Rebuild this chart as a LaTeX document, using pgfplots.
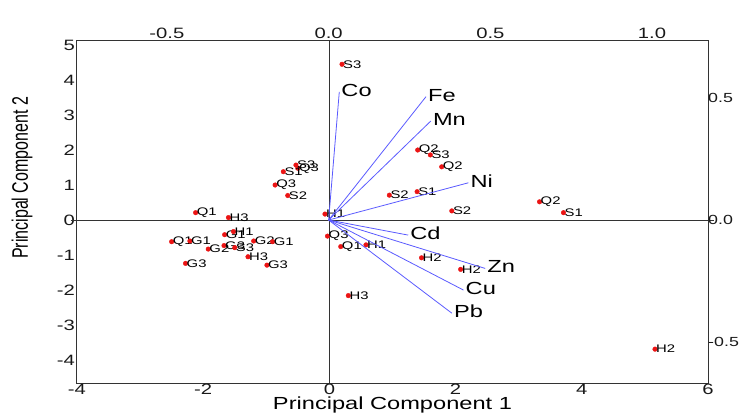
\documentclass[border=0pt]{standalone}
\usepackage{fontspec}
\setmainfont{Liberation Sans}[FakeStretch=1.35]
\newfontfamily\plainsans{Liberation Sans}
\usepackage{graphicx}
\usepackage{pgfplots}
\usepackage{pgfplotstable}
\pgfplotsset{compat=1.18}
\definecolor{arrowblue}{RGB}{90,90,255}
\definecolor{dotred}{RGB}{235,20,20}

\pgfplotstableread{
x y label
0.20 4.45 S3
1.40 2.00 Q2
1.60 1.86 S3
1.78 1.52 Q2
0.95 0.71 S2
1.39 0.81 S1
1.94 0.26 S2
3.33 0.52 Q2
3.71 0.21 S1
5.16 -3.69 H2
-0.07 0.17 H1
-0.03 -0.46 Q3
0.18 -0.76 Q1
0.58 -0.71 H1
1.46 -1.08 H2
2.08 -1.41 H2
0.30 -2.16 H3
-2.12 0.21 Q1
-1.60 0.07 H3
-0.86 1.00 Q3
-0.66 0.70 S2
-0.50 1.48 Q3
-0.53 1.57 S3
-0.73 1.38 S1
-2.50 -0.62 Q1
-2.21 -0.60 G1
-1.92 -0.83 G2
-1.66 -0.42 G1
-1.52 -0.33 H1
-1.67 -0.73 G3
-1.50 -0.79 S3
-1.20 -0.60 G2
-0.90 -0.62 G1
-1.29 -1.05 H3
-0.99 -1.29 G3
-2.28 -1.24 G3
}\scores

\pgfplotstableread{
x y label
0.033 0.527 Co
0.301 0.507 Fe
0.316 0.407 Mn
0.432 0.153 Ni
0.246 -0.062 Cd
0.484 -0.199 Zn
0.417 -0.288 Cu
0.381 -0.383 Pb
}\loadings

\begin{document}
\begin{tikzpicture}[x=1pt,y=1pt]
\useasboundingbox (0,0) rectangle (739,416);
\begin{axis}[
  at={(77pt,33pt)}, anchor=south west, scale only axis,
  width=631pt, height=343pt,
  xmin=-4, xmax=6, ymin=-4.657, ymax=5.143,
  axis line style={black!80, line width=1pt},
  xtick={-4,-2,0,2,4,6}, xticklabels={-4,-2,0,2,4,6},
  ytick={-4,-3,-2,-1,0,1,2,3,4,5}, yticklabels={-4,-3,-2,-1,0,1,2,3,4,5},
  xtick pos=bottom, ytick pos=left,
  major tick length=0pt,
  tick label style={font=\fontsize{15}{15}\selectfont, text=black!90},
  xticklabel style={inner sep=1pt},
  yticklabel style={inner sep=2pt},
  xlabel={Principal Component 1},
  ylabel={\scalebox{1}[1.4]{Principal Component 2}},
  xlabel style={font=\fontsize{17.5}{17.5}\selectfont, at={(axis description cs:0.5,-0.064)}, anchor=center},
  ylabel style={font=\plainsans\fontsize{16}{16}\selectfont, at={(axis description cs:-0.087,0.598)}, anchor=center},
  clip=false,
]
\draw[black!80, line width=0.8pt] (axis cs:-4.1,0) -- (axis cs:6.1,0);
\draw[black!80, line width=0.8pt] (axis cs:0,-4.657) -- (axis cs:0,5.143);
\addplot[only marks, mark=*, mark size=2.3pt, color=dotred,
  mark options={draw=dotred, fill=dotred},
  point meta=explicit symbolic, nodes near coords,
  nodes near coords style={anchor=west, font=\fontsize{11}{11}\selectfont, text=black, inner sep=1pt}]
  table[meta=label] {\scores};
\end{axis}
\begin{axis}[
  at={(77pt,33pt)}, anchor=south west, scale only axis,
  width=631pt, height=343pt,
  xmin=-0.778, xmax=1.173, ymin=-0.670, ymax=0.740,
  axis x line*=top, axis y line*=right,
  axis line style={black!80, line width=1pt},
  xtick={-0.5,0,0.5,1}, xticklabels={-0.5,0.0,0.5,1.0},
  ytick={-0.5,0,0.5}, yticklabels={-0.5,0.0,0.5},
  major tick length=0pt,
  tick label style={text=black!90},
  xticklabel style={inner sep=1pt, font=\fontsize{15}{15}\selectfont},
  yticklabel style={inner sep=0pt, font=\fontsize{13.2}{13.2}\selectfont},
  clip=false,
]
\addplot[arrowblue, line width=0.8pt] coordinates {(0,0) (0.033,0.527)};
\addplot[arrowblue, line width=0.8pt] coordinates {(0,0) (0.301,0.507)};
\addplot[arrowblue, line width=0.8pt] coordinates {(0,0) (0.316,0.407)};
\addplot[arrowblue, line width=0.8pt] coordinates {(0,0) (0.432,0.153)};
\addplot[arrowblue, line width=0.8pt] coordinates {(0,0) (0.246,-0.062)};
\addplot[arrowblue, line width=0.8pt] coordinates {(0,0) (0.484,-0.199)};
\addplot[arrowblue, line width=0.8pt] coordinates {(0,0) (0.417,-0.288)};
\addplot[arrowblue, line width=0.8pt] coordinates {(0,0) (0.381,-0.383)};
\addplot[only marks, mark=none, point meta=explicit symbolic, nodes near coords,
  nodes near coords style={anchor=west, font=\fontsize{17.5}{17.5}\selectfont, text=black, inner sep=2pt, yshift=1.5pt}]
  table[meta=label] {\loadings};
\end{axis}
\end{tikzpicture}
\end{document}
